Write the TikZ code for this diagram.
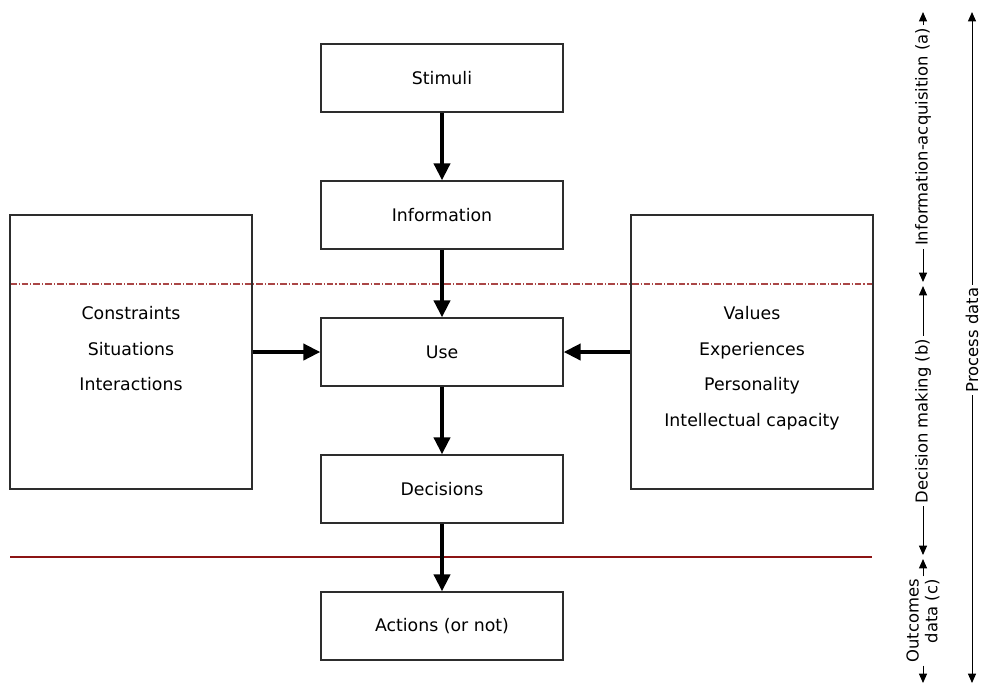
\documentclass[tikz,border=0pt]{standalone}
\usepackage{fontspec}
\setmainfont{DejaVu Sans}
\usepackage{tikz}
\usetikzlibrary{arrows.meta}
\definecolor{boxgray}{RGB}{45,45,45}
\definecolor{rulered}{RGB}{140,20,20}
\definecolor{dashred}{RGB}{170,70,70}

\begin{document}
\begin{tikzpicture}[x=0.75pt, y=-0.75pt,
    stagebox/.style={draw=boxgray, line width=1pt, minimum width=181.5pt, minimum height=51pt, font=\fontsize{13}{15}\selectfont},
    bigbox/.style={draw=boxgray, line width=1pt, minimum width=181.5pt, minimum height=205.5pt},
    itemtext/.style={font=\fontsize{13}{15}\selectfont, text height=0.75em, text depth=0.22em, inner sep=0pt},
    sidetext/.style={rotate=90, font=\fontsize{12.3}{14}\selectfont, inner sep=2pt},
    flow/.style={line width=3pt, -{Triangle[length=12.75pt, width=12pt]}},
    span/.style={line width=0.75pt, -{Triangle[length=7pt, width=6pt]}}]
    \useasboundingbox (0,0) rectangle (981,687);

    \draw[dashred, line width=0.8pt, dash pattern=on 5pt off 1.5pt on 0.8pt off 1.5pt] (10,284) -- (872,284);
    \draw[rulered, line width=0.8pt] (10,557) -- (872,557);

    \node[stagebox] (stim) at (442,78) {Stimuli};
    \node[stagebox] (info) at (442,215) {Information};
    \node[stagebox, fill=white] (use) at (442,352) {Use};
    \node[stagebox] (dec) at (442,489) {Decisions};
    \node[stagebox] (act) at (442,626) {Actions (or not)};

    \node[bigbox] (ctx) at (131,352) {};
    \node[bigbox] (pers) at (752,352) {};
    \foreach \txt [count=\i] in {Constraints,Situations,Interactions}
        \node[itemtext] (ctx\i) at (131,280.5+35.5*\i) {\txt};
    \foreach \txt [count=\i] in {Values,Experiences,Personality,Intellectual capacity}
        \node[itemtext] (pers\i) at (752,280.5+35.5*\i) {\txt};

    \draw[flow] (stim) -- (info);
    \draw[flow] (info) -- (use);
    \draw[flow] (use) -- (dec);
    \draw[flow] (dec) -- (act);
    \draw[flow] (ctx) -- (use);
    \draw[flow] (pers) -- (use);

    \coordinate (atop) at (923,12);
    \coordinate (abot) at (923,282);
    \coordinate (btop) at (923,286);
    \coordinate (bbot) at (923,555);
    \coordinate (ctop) at (923,559);
    \coordinate (cbot) at (923,683);
    \coordinate (ptop) at (972,12);
    \coordinate (pbot) at (972,683);

    \node[sidetext] (acq) at (923,137) {Information-acquisition (a)};
    \node[sidetext] (dm) at (923,421) {Decision making (b)};
    \node[sidetext, align=right] (out) at (923,621) {Outcomes\\data (c)};
    \node[sidetext, text depth=0pt] (proc) at (972,340) {Process data};

    \draw[span] (acq) -- (atop);
    \draw[span] (acq) -- (abot);
    \draw[span] (dm) -- (btop);
    \draw[span] (dm) -- (bbot);
    \draw[span] (out) -- (ctop);
    \draw[span] (out) -- (cbot);
    \draw[span] (proc) -- (ptop);
    \draw[span] (proc) -- (pbot);
\end{tikzpicture}
\end{document}
